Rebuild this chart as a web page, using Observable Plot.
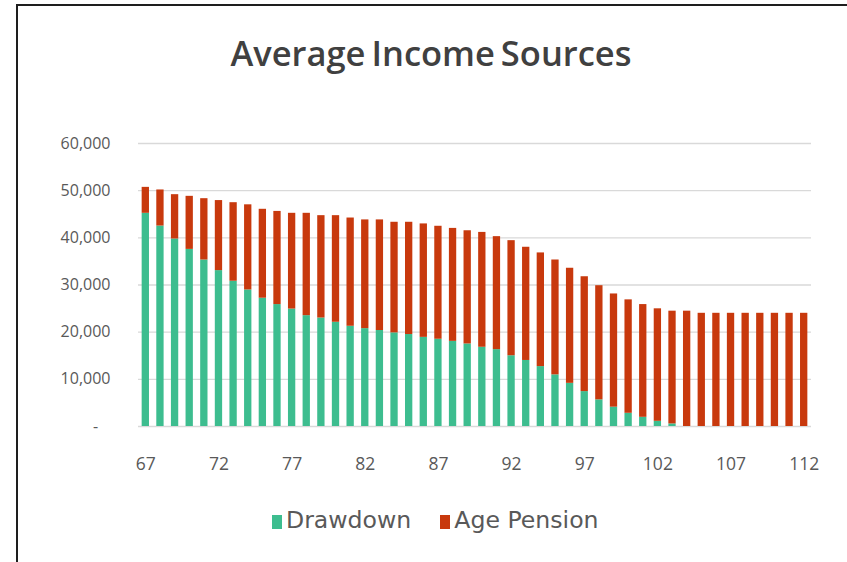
<!DOCTYPE html>
<html>
<head>
<meta charset="utf-8">
<script src="https://cdn.jsdelivr.net/npm/d3@7"></script>
<script src="https://cdn.jsdelivr.net/npm/@observablehq/plot@0.6"></script>
<style>
  html, body { margin: 0; padding: 0; background: #fff; overflow: hidden; }
  body { width: 847px; height: 562px; position: relative; }
  #frame { position: absolute; left: 16px; top: 4px; width: 831px; height: 558px;
           border-top: 2px solid #1e1e1e; border-left: 2px solid #1e1e1e; box-sizing: border-box; }
  #title { position: absolute; left: 15px; width: 832px; top: 29px; text-align: center;
           font-family: "Open Sans", sans-serif; font-weight: 600; font-size: 34.5px; color: #404040;
           letter-spacing: 0px; word-spacing: -3px; box-sizing: border-box; }
  #chart { position: absolute; left: 0; top: 100px; }
  #legend { position: absolute; top: 506px; left: 272px; font-family: "DejaVu Sans", sans-serif;
            font-size: 23.6px; color: #595959; white-space: nowrap; }
  #legend span.sw { display: inline-block; width: 10px; height: 14px; margin-right: 4px; vertical-align: -1px; }
  #legend span.item { margin-right: 29px; }
</style>
</head>
<body>
<div id="frame"></div>
<div id="title">Average Income Sources</div>
<div id="chart"></div>
<div id="legend"></div>
<script>
const ages = d3.range(67, 113);
const drawdown = [45200, 42500, 39750, 37550, 35300, 33050, 30800, 28950, 27200, 25850,
  24900, 23500, 23000, 22100, 21250, 20750, 20350, 19850, 19500, 18900,
  18500, 18050, 17500, 16800, 16300, 15000, 14000, 12700, 10950, 9150,
  7400, 5650, 4100, 2800, 1950, 1100, 550, 0, 0, 0, 0, 0, 0, 0, 0, 0];
const agePension = [5500, 7650, 9400, 11250, 13000, 14850, 16650, 18050, 18850, 19750,
  20300, 21700, 21700, 22600, 22950, 23050, 23450, 23450, 23800, 24050,
  23950, 23950, 24000, 24350, 23950, 24400, 24000, 24100, 24350, 24400,
  24350, 24200, 24000, 24050, 23900, 23850, 23900, 24450, 24000, 24000,
  24000, 24000, 24000, 24000, 24000, 24000];
const seriesNames = ["Drawdown", "Age Pension"];
const seriesColors = ["#3dbd8f", "#c8390d"];
const xTicks = [67, 72, 77, 82, 87, 92, 97, 102, 107, 112];
const yTicks = [0, 10000, 20000, 30000, 40000, 50000, 60000];

const rows = [];
ages.forEach((a, i) => {
  rows.push({age: a, series: seriesNames[0], value: drawdown[i]});
  rows.push({age: a, series: seriesNames[1], value: agePension[i]});
});

const plot = Plot.plot({
  width: 847,
  height: 390,
  marginLeft: 138,
  marginRight: 36,
  marginTop: 43,
  marginBottom: 64,
  style: {fontFamily: "'Open Sans', sans-serif", color: "#595959", background: "transparent"},
  x: {type: "band", domain: ages, paddingInner: 0.5, paddingOuter: 0.25, round: false, label: null},
  y: {domain: [0, 60000], label: null},
  color: {domain: seriesNames, range: seriesColors},
  marks: [
    Plot.gridY(yTicks, {stroke: "#d9d9d9", strokeOpacity: 1, strokeWidth: 1.3}),
    Plot.barY(rows, Plot.stackY({x: "age", y: "value", fill: "series", order: seriesNames})),
    Plot.axisY({ticks: yTicks, tickSize: 0, tickPadding: 28, fontSize: 16,
      tickFormat: d => d === 0 ? "-\u00a0\u00a0\u00a0" : d3.format(",")(d)}),
    Plot.axisX({ticks: xTicks, tickSize: 0, tickPadding: 31, fontSize: 17.5})
  ]
});
document.getElementById("chart").appendChild(plot);

const legend = document.getElementById("legend");
seriesNames.forEach((n, i) => {
  const item = document.createElement("span");
  item.className = "item";
  const sw = document.createElement("span");
  sw.className = "sw";
  sw.style.background = seriesColors[i];
  item.appendChild(sw);
  item.appendChild(document.createTextNode(n));
  legend.appendChild(item);
});
</script>
</body>
</html>
